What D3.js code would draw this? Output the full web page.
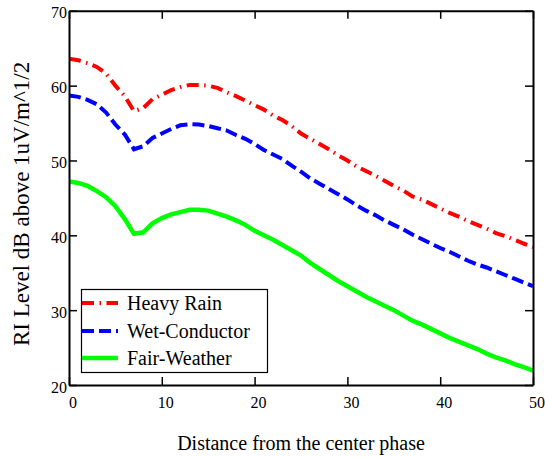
<!DOCTYPE html>
<html>
<head>
<meta charset="utf-8">
<script src="https://cdn.jsdelivr.net/npm/d3@7"></script>
<style>
  html, body { margin: 0; padding: 0; background: #fff; }
  svg { display: block; }
</style>
</head>
<body>
<svg id="chart" width="545" height="457"></svg>
<script>
// Distance from the center phase
const distance = [0,1,2,3,4,5,6,7,8,9,10,11,12,13,14,15,16,17,18,19,20,21,22,23,24,25,
  26,27,28,29,30,31,32,33,34,35,36,37,38,39,40,41,42,43,44,45,46,47,48,49,50];

// RI level, dB above 1 uV/m^1/2
const heavyRain = [63.6,63.4,63.0,62.5,61.6,60.0,58.6,56.6,57.0,58.2,58.8,59.4,59.8,60.1,60.1,60.0,
  59.7,59.1,58.6,58.0,57.4,56.8,56.0,55.4,54.6,53.6,52.9,52.2,51.5,50.7,50.0,49.2,48.6,48.0,47.3,
  46.6,46.0,45.2,44.8,44.2,43.6,43.0,42.5,41.9,41.4,40.9,40.3,39.9,39.4,38.9,38.4];
const wetConductor = [58.7,58.5,58.1,57.5,56.4,54.8,53.5,51.5,51.9,53.0,53.6,54.2,54.7,54.85,54.8,54.6,
  54.3,54.0,53.4,52.9,52.2,51.4,50.8,50.2,49.3,48.5,47.6,46.9,46.2,45.5,44.8,44.0,43.3,42.7,42.0,
  41.4,40.8,40.1,39.5,38.9,38.3,37.8,37.2,36.6,36.1,35.7,35.2,34.7,34.2,33.7,33.2];
const fairWeather = [47.2,47.0,46.6,45.9,45.1,43.9,42.2,40.2,40.4,41.6,42.3,42.8,43.1,43.4,43.4,43.3,
  42.9,42.5,42.0,41.4,40.6,40.0,39.4,38.7,38.0,37.3,36.3,35.5,34.7,33.9,33.2,32.5,31.8,31.2,30.6,
  30.0,29.3,28.6,28.1,27.5,26.9,26.3,25.8,25.3,24.8,24.2,23.7,23.3,22.8,22.4,21.9];

const seriesNames = ["Heavy Rain", "Wet-Conductor", "Fair-Weather"];
const xTicks = [0, 10, 20, 30, 40, 50];
const yTicks = [20, 30, 40, 50, 60, 70];

const FONT = "'Liberation Serif', 'DejaVu Serif', serif";

const svg = d3.select("#chart").attr("font-family", FONT);
const plotLeft = 69, plotRight = 533, plotTop = 10.8, plotBottom = 385;

const x = d3.scaleLinear().domain([0, 50]).range([plotLeft, plotRight]);
const y = d3.scaleLinear().domain([20, 70]).range([plotBottom, plotTop]);

const series = [
  { name: seriesNames[0], values: heavyRain, color: "#ff0000", dash: "12,5.5,1.5,5.5", width: 4 },
  { name: seriesNames[1], values: wetConductor, color: "#0000ff", dash: "12,5", width: 4 },
  { name: seriesNames[2], values: fairWeather, color: "#00ff00", dash: null, width: 4.5 }
];

// curves
const line = d3.line()
  .x((d, i) => x(distance[i]))
  .y(d => y(d));

const plot = svg.append("g");
plot.append("clipPath").attr("id", "clip")
  .append("rect").attr("x", plotLeft).attr("y", plotTop)
  .attr("width", plotRight - plotLeft).attr("height", plotBottom - plotTop);

series.forEach(s => {
  plot.append("path")
    .attr("clip-path", "url(#clip)")
    .attr("d", line(s.values))
    .attr("fill", "none")
    .attr("stroke", s.color)
    .attr("stroke-width", s.width)
    .attr("stroke-dasharray", s.dash)
    .attr("stroke-linejoin", "miter");
});

// axes with inward ticks on all four sides
const tickLen = 8;
const axisBottom = d3.axisBottom(x).tickValues(xTicks).tickSizeInner(-tickLen).tickSizeOuter(0).tickFormat("");
const axisTop = d3.axisTop(x).tickValues(xTicks).tickSizeInner(-tickLen).tickSizeOuter(0).tickFormat("");
const axisLeft = d3.axisLeft(y).tickValues(yTicks).tickSizeInner(-tickLen).tickSizeOuter(0).tickFormat("");
const axisRight = d3.axisRight(y).tickValues(yTicks).tickSizeInner(-tickLen).tickSizeOuter(0).tickFormat("");

const axes = [
  [axisBottom, `translate(0,${plotBottom})`],
  [axisTop, `translate(0,${plotTop})`],
  [axisLeft, `translate(${plotLeft},0)`],
  [axisRight, `translate(${plotRight},0)`]
];
axes.forEach(([a, t]) => {
  const g = svg.append("g").attr("transform", t).call(a);
  g.select(".domain").attr("stroke", "#000").attr("stroke-width", 2);
  g.selectAll(".tick line").attr("stroke", "#000").attr("stroke-width", 1.5);
});

// tick labels
svg.append("g").selectAll("text").data(xTicks).join("text")
  .attr("x", d => x(d) + 4)
  .attr("y", 408)
  .attr("text-anchor", "middle")
  .attr("font-family", FONT)
  .attr("font-size", 16)
  .text(d => d);

svg.append("g").selectAll("text").data(yTicks).join("text")
  .attr("x", 67)
  .attr("y", d => y(d) + 7.5)
  .attr("text-anchor", "end")
  .attr("font-family", FONT)
  .attr("font-size", 16)
  .text(d => d);

// axis titles
svg.append("text")
  .attr("x", (plotLeft + plotRight) / 2)
  .attr("y", 450)
  .attr("text-anchor", "middle")
  .attr("font-family", FONT)
  .attr("font-size", 20)
  .text("Distance from the center phase");

svg.append("text")
  .attr("transform", `translate(29,${(plotTop + plotBottom) / 2 + 6}) rotate(-90)`)
  .attr("text-anchor", "middle")
  .attr("font-family", FONT)
  .attr("font-size", 23)
  .text("RI Level dB above 1uV/m^1/2");

// legend
const legend = svg.append("g");
legend.append("rect")
  .attr("x", 81.5).attr("y", 289.5)
  .attr("width", 186).attr("height", 83)
  .attr("fill", "#fff").attr("stroke", "#000").attr("stroke-width", 1.2);

const rowY = [303, 331, 358];
series.forEach((s, i) => {
  legend.append("line")
    .attr("x1", 82).attr("x2", 118)
    .attr("y1", rowY[i]).attr("y2", rowY[i])
    .attr("stroke", s.color)
    .attr("stroke-width", s.width)
    .attr("stroke-dasharray", s.dash);
  legend.append("text")
    .attr("x", 127)
    .attr("y", rowY[i] + 7)
    .attr("font-family", FONT)
    .attr("font-size", 20)
    .text(s.name);
});
</script>
</body>
</html>
